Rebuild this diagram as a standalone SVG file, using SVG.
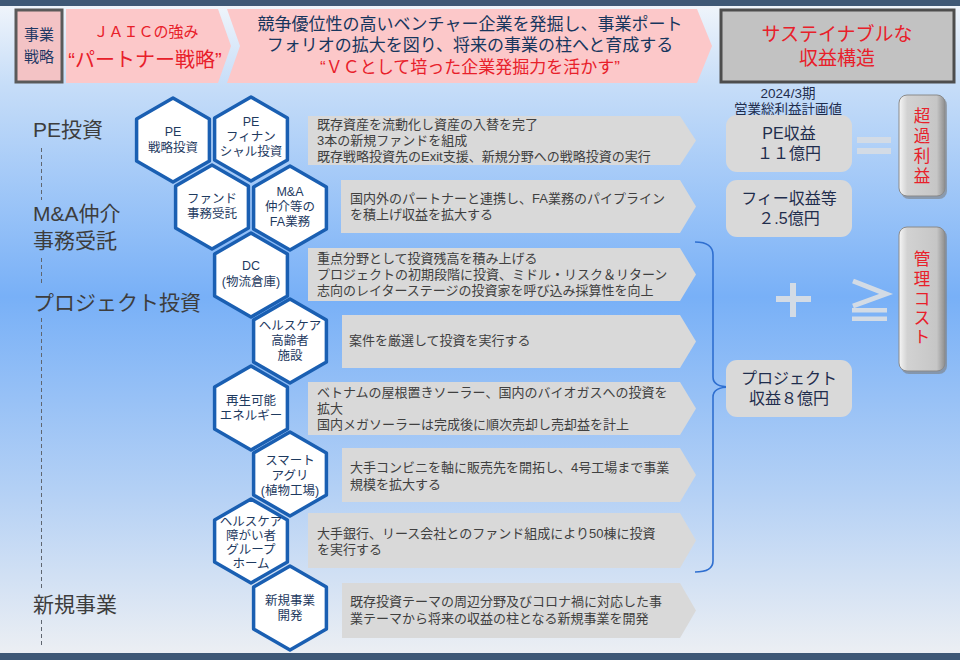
<svg xmlns="http://www.w3.org/2000/svg" width="960" height="660" viewBox="0 0 960 660">
<defs>
<linearGradient id="bg" x1="0" y1="0" x2="0" y2="1">
<stop offset="0" stop-color="#f2f6fb"/>
<stop offset="0.13" stop-color="#c6ddf8"/>
<stop offset="0.45" stop-color="#78b0f7"/>
<stop offset="0.75" stop-color="#b5d1f5"/>
<stop offset="1" stop-color="#eef0f3"/>
</linearGradient>
<linearGradient id="vbox" x1="0" y1="0" x2="1" y2="0">
<stop offset="0" stop-color="#f6f6f6"/>
<stop offset="0.18" stop-color="#d2d2d2"/>
<stop offset="0.82" stop-color="#c6c6c6"/>
<stop offset="1" stop-color="#8e8e8e"/>
</linearGradient>
<polygon id="hex" points="0,-42 36.4,-21 36.4,21 0,42 -36.4,21 -36.4,-21"/>
<style>
text{font-family:"Liberation Sans","Noto Sans CJK JP",sans-serif;dominant-baseline:central}
.hx{fill:#fff;stroke:#1a5fb2;stroke-width:3.5;stroke-linejoin:round}
.ht{font-size:12.5px;fill:#1e3a5f;text-anchor:middle}
.arr{fill:#d9d9d9}
.at{font-size:13px;fill:#404040}
.lbl{font-size:21px;fill:#3d3d3d}
.rb{fill:#d9d9d9}
.rt{font-size:16px;fill:#1f2d4d;text-anchor:middle}
.red{fill:#e8202a}
.sym{fill:#d3dbe5}
.vt{font-size:16.5px;fill:#e8202a;text-anchor:middle}
</style>
</defs>
<rect x="0" y="0" width="960" height="660" fill="url(#bg)"/>
<rect x="0" y="0" width="960" height="6" fill="#3e5876"/>
<rect x="0" y="653" width="960" height="7" fill="#3e5876"/>

<g id="strategy-label">
<rect x="16" y="10" width="46" height="72" fill="#f3c3c5" stroke="#5a5a5a" stroke-width="3"/>
<text font-size="15" fill="#1f3864" text-anchor="middle"><tspan x="39" y="34">事業</tspan><tspan x="39" dy="22">戦略</tspan></text>
</g>
<g id="jaic-strength">
<polygon points="66,9 218,9 231,46 218,83 66,83" fill="#fcc8c9"/>
<text x="146" y="31" font-size="15" class="red" text-anchor="middle">ＪＡＩＣの強み</text>
<text x="145" y="60" font-size="20" class="red" text-anchor="middle">“パートナー戦略”</text>
</g>
<g id="strategy-text">
<polygon points="227,9 697,9 712,46 697,83 227,83 240,46" fill="#fcc8c9"/>
<text font-size="17" fill="#17365d" text-anchor="middle"><tspan x="470" y="24">競争優位性の高いベンチャー企業を発掘し、事業ポート</tspan><tspan x="470" dy="21">フォリオの拡大を図り、将来の事業の柱へと育成する</tspan><tspan x="470" dy="22" fill="#e8202a">“ＶＣとして培った企業発掘力を活かす”</tspan></text>
</g>
<g id="sustainable">
<rect x="721" y="10" width="233" height="72" fill="#c2c2c2" stroke="#4d4d4d" stroke-width="3"/>
<text font-size="19" class="red" text-anchor="middle"><tspan x="837" y="34">サステイナブルな</tspan><tspan x="837" dy="24">収益構造</tspan></text>
</g>

<g id="connectors" fill="none" stroke-linecap="butt">
<g stroke="#5f6670" stroke-width="1" stroke-dasharray="4 3">
<line x1="41.5" y1="148" x2="41.5" y2="200"/>
<line x1="41.5" y1="258" x2="41.5" y2="286"/>
<line x1="41.5" y1="318" x2="41.5" y2="590"/>
<line x1="41.5" y1="620" x2="41.5" y2="648"/>
</g>
<path d="M695,242 C706,242 713,245 713,255 L713,377 C713,384 720,387 730,387 C720,387 713,390 713,397 L713,561 C713,569 706,572 695,572" stroke="#2f6fd0" stroke-width="1.6"/>
</g>

<g id="section-labels">
<text x="33" y="129" class="lbl">PE投資</text>
<text class="lbl"><tspan x="33" y="213">M&amp;A仲介</tspan><tspan x="33" dy="27">事務受託</tspan></text>
<text x="33" y="302" class="lbl">プロジェクト投資</text>
<text x="33" y="604" class="lbl">新規事業</text>
</g>

<g id="arrow-pe"><polygon class="arr" points="308,116 680,116 696,140.5 680,165 308,165"/>
<text class="at"><tspan x="317" y="124">既存資産を流動化し資産の入替を完了</tspan><tspan x="317" dy="16">3本の新規ファンドを組成</tspan><tspan x="317" dy="16">既存戦略投資先のExit支援、新規分野への戦略投資の実行</tspan></text></g>
<g id="arrow-ma"><polygon class="arr" points="341,180 680,180 696,206.5 680,233 341,233"/>
<text class="at"><tspan x="350" y="198">国内外のパートナーと連携し、FA業務のパイプライン</tspan><tspan x="350" dy="16">を積上げ収益を拡大する</tspan></text></g>
<g id="arrow-dc"><polygon class="arr" points="308,248 680,248 696,274.5 680,301 308,301"/>
<text class="at"><tspan x="317" y="258">重点分野として投資残高を積み上げる</tspan><tspan x="317" dy="16">プロジェクトの初期段階に投資、ミドル・リスク＆リターン</tspan><tspan x="317" dy="16">志向のレイターステージの投資家を呼び込み採算性を向上</tspan></text></g>
<g id="arrow-hc1"><polygon class="arr" points="342,315 680,315 696,341.5 680,368 342,368"/>
<text class="at" x="349" y="340">案件を厳選して投資を実行する</text></g>
<g id="arrow-re"><polygon class="arr" points="308,382 680,382 696,408.5 680,435 308,435"/>
<text class="at"><tspan x="317" y="392">ベトナムの屋根置きソーラー、国内のバイオガスへの投資を</tspan><tspan x="317" dy="16">拡大</tspan><tspan x="317" dy="16">国内メガソーラーは完成後に順次売却し売却益を計上</tspan></text></g>
<g id="arrow-agri"><polygon class="arr" points="342,448 680,448 696,475 680,502 342,502"/>
<text class="at"><tspan x="350" y="467">大手コンビニを軸に販売先を開拓し、4号工場まで事業</tspan><tspan x="350" dy="17">規模を拡大する</tspan></text></g>
<g id="arrow-hc2"><polygon class="arr" points="308,513 680,513 696,540.5 680,568 308,568"/>
<text class="at"><tspan x="317" y="533">大手銀行、リース会社とのファンド組成により50棟に投資</tspan><tspan x="317" dy="16">を実行する</tspan></text></g>
<g id="arrow-new"><polygon class="arr" points="342,583 680,583 696,610.5 680,638 342,638"/>
<text class="at"><tspan x="350" y="601">既存投資テーマの周辺分野及びコロナ禍に対応した事</tspan><tspan x="350" dy="17">業テーマから将来の収益の柱となる新規事業を開発</tspan></text></g>

<g id="hex-pe-strategic"><use href="#hex" class="hx" x="173" y="140"/>
<text class="ht"><tspan x="173" y="132">PE</tspan><tspan x="173" dy="16">戦略投資</tspan></text></g>
<g id="hex-pe-financial"><use href="#hex" class="hx" x="251" y="139"/>
<text class="ht"><tspan x="251" y="122">PE</tspan><tspan x="251" dy="15">フィナン</tspan><tspan x="251" dy="15">シャル投資</tspan></text></g>
<g id="hex-fund-admin"><use href="#hex" class="hx" x="212" y="207"/>
<text class="ht"><tspan x="212" y="199">ファンド</tspan><tspan x="212" dy="15">事務受託</tspan></text></g>
<g id="hex-ma"><use href="#hex" class="hx" x="290" y="208"/>
<text class="ht"><tspan x="290" y="192">M&amp;A</tspan><tspan x="290" dy="15">仲介等の</tspan><tspan x="290" dy="15">FA業務</tspan></text></g>
<g id="hex-dc"><use href="#hex" class="hx" x="251" y="275"/>
<text class="ht"><tspan x="251" y="266">DC</tspan><tspan x="251" dy="16">(物流倉庫)</tspan></text></g>
<g id="hex-healthcare-elderly"><use href="#hex" class="hx" x="290" y="341"/>
<text class="ht"><tspan x="290" y="326">ヘルスケア</tspan><tspan x="290" dy="15">高齢者</tspan><tspan x="290" dy="15">施設</tspan></text></g>
<g id="hex-renewable"><use href="#hex" class="hx" x="251" y="408"/>
<text class="ht"><tspan x="251" y="401">再生可能</tspan><tspan x="251" dy="15">エネルギー</tspan></text></g>
<g id="hex-smart-agri"><use href="#hex" class="hx" x="290" y="474"/>
<text class="ht"><tspan x="290" y="461">スマート</tspan><tspan x="290" dy="15">アグリ</tspan><tspan x="290" dy="15">(植物工場)</tspan></text></g>
<g id="hex-healthcare-group"><use href="#hex" class="hx" x="251" y="541"/>
<text class="ht"><tspan x="251" y="522">ヘルスケア</tspan><tspan x="251" dy="14">障がい者</tspan><tspan x="251" dy="14">グループ</tspan><tspan x="251" dy="14">ホーム</tspan></text></g>
<g id="hex-new-business"><use href="#hex" class="hx" x="290" y="608"/>
<text class="ht"><tspan x="290" y="601">新規事業</tspan><tspan x="290" dy="15">開発</tspan></text></g>

<g id="plan-caption">
<text font-size="13.5" fill="#1f2d4d" text-anchor="middle"><tspan x="788" y="93">2024/3期</tspan><tspan x="788" dy="16">営業総利益計画値</tspan></text>
</g>
<g id="pe-revenue"><rect class="rb" x="726" y="115" width="126" height="57" rx="11"/>
<text class="rt"><tspan x="789" y="133">PE収益</tspan><tspan x="789" dy="20">１１億円</tspan></text></g>
<g id="fee-revenue"><rect class="rb" x="726" y="180" width="126" height="57" rx="11"/>
<text class="rt"><tspan x="789" y="198">フィー収益等</tspan><tspan x="789" dy="20">２.5億円</tspan></text></g>
<g id="project-revenue"><rect class="rb" x="726" y="360" width="126" height="57" rx="11"/>
<text class="rt"><tspan x="789" y="378">プロジェクト</tspan><tspan x="789" dy="20">収益８億円</tspan></text></g>

<g id="equals"><rect class="sym" x="857" y="137" width="34" height="6"/><rect class="sym" x="857" y="148" width="34" height="6"/></g>
<g id="plus"><rect class="sym" x="776" y="296" width="35" height="6"/><rect class="sym" x="790" y="283" width="6" height="34"/></g>
<g id="geq"><polyline points="853,281 886,294 853,306" fill="none" stroke="#d3dbe5" stroke-width="5"/>
<rect class="sym" x="852" y="308" width="35" height="4.5"/><rect class="sym" x="852" y="316.5" width="35" height="4.5"/></g>

<g id="excess-profit">
<rect x="901" y="97" width="46" height="102" rx="8" fill="#7d7d7d" opacity="0.6"/>
<rect x="899" y="95" width="46" height="101" rx="8" fill="url(#vbox)" stroke="#8a8a8a" stroke-width="1"/>
<text class="vt"><tspan x="922" y="116">超</tspan><tspan x="922" dy="20">過</tspan><tspan x="922" dy="20">利</tspan><tspan x="922" dy="20">益</tspan></text>
</g>
<g id="management-cost">
<rect x="901" y="229" width="46" height="145" rx="8" fill="#7d7d7d" opacity="0.6"/>
<rect x="899" y="227" width="46" height="144" rx="8" fill="url(#vbox)" stroke="#8a8a8a" stroke-width="1"/>
<text class="vt"><tspan x="922" y="259">管</tspan><tspan x="922" dy="20">理</tspan><tspan x="922" dy="20">コ</tspan><tspan x="922" dy="19">ス</tspan><tspan x="922" dy="19">ト</tspan></text>
</g>
</svg>
